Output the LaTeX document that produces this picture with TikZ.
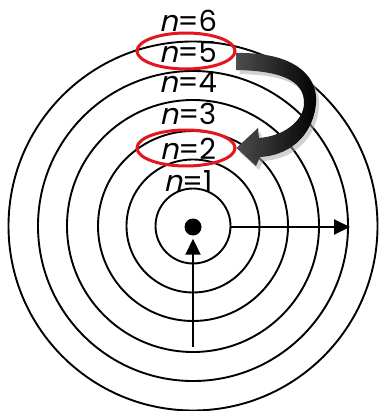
\documentclass[tikz,border=0pt]{standalone}
\usepackage{fontspec}
\setmainfont{Poppins}
\newfontfamily\slnt[FakeSlant=0.22]{Poppins}
\usetikzlibrary{arrows.meta,positioning,shapes.geometric}
\definecolor{ringred}{RGB}{228,22,28}
\newcommand{\lvl}[1]{{\slnt n}=#1}

\begin{document}
\begin{tikzpicture}[x=1pt,y=-1pt,>={Triangle[length=16pt,width=15pt]},
  orbit/.style={line width=1.9pt},
  lab/.style={font=\fontsize{29}{29}\selectfont,anchor=base,inner sep=0pt},
  ring/.style={draw=ringred,line width=3pt,ellipse,minimum width=98pt,minimum height=36pt}]
\useasboundingbox (0,0) rectangle (380,411);
\fill[white] (0,0) rectangle (380,411);
% orbits
\coordinate (o) at (193,226);
\foreach \r in {37.5,66.5,95,126,155,184.5} \draw[orbit] (o) circle (\r);
% nucleus and the two radii
\node[circle,fill=black,inner sep=0pt,minimum size=17pt] (nucleus) at (193,227) {};
\coordinate (base) at (193,347);\coordinate (edge1) at (230,227);\coordinate (rim5) at (350,227);
\draw[orbit,->,shorten >=3pt] (base)--(nucleus);
\draw[orbit,->] (edge1)--(rim5);
% level labels
\node[lab] (n6) at (188,32) {\lvl{6}};
\node[lab] (n5) at (188,63) {\lvl{5}};
\node[lab] (n4) at (188,93) {\lvl{4}};
\node[lab] (n3) at (188,125) {\lvl{3}};
\node[lab] (n2) at (188,160) {\lvl{2}};
\node[lab] (n1) at (188,192) {\lvl{1}};
\node[ring] (r5) at (186,51) {};
\node[ring] (r2) at (186,148) {};
% jump 5 -> 2
\shade[left color=black!70,right color=black,
  preaction={fill=black!35,opacity=.5,transform canvas={shift={(3pt,-4pt)}}}]
  (r5.east |- 0,53) .. controls (300,52) and (318,80) .. (316,103)
  .. controls (314,130) and (295,155) .. (260,157) -- (256,166) -- (r2.east) -- (258,128) -- (259,138)
  .. controls (285,136) and (304,120) .. (304,103) .. controls (304,85) and (290,71) .. (r5.east |- 0,70) -- cycle;
\end{tikzpicture}
\end{document}
